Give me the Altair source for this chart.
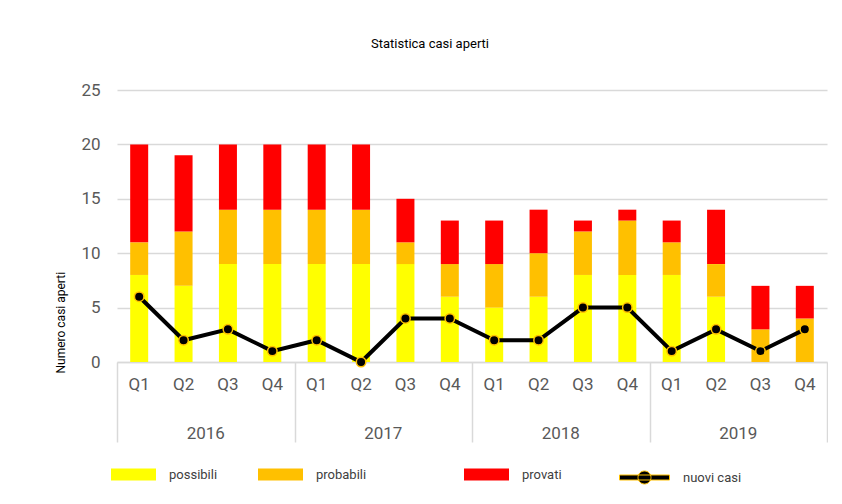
import altair as alt
import pandas as pd

# ---- data ----
years = ["2016", "2017", "2018", "2019"]
quarters = ["Q1", "Q2", "Q3", "Q4"]
possibili = [8, 7, 9, 9, 9, 9, 9, 6, 5, 6, 8, 8, 8, 6, 0, 0]
probabili = [3, 5, 5, 5, 5, 5, 2, 3, 4, 4, 4, 5, 3, 3, 3, 4]
provati = [9, 7, 6, 6, 6, 6, 4, 4, 4, 4, 1, 1, 2, 5, 4, 3]
nuovi_casi = [6, 2, 3, 1, 2, 0, 4, 4, 2, 2, 5, 5, 1, 3, 1, 3]
series_names = ["possibili", "probabili", "provati"]
series_colors = ["#FFFF00", "#FFC000", "#FF0000"]
y_ticks = [0, 5, 10, 15, 20, 25]

FONT = "Roboto, sans-serif"
n = len(years) * len(quarters)

bar_rows = []
for i in range(n):
    for k, (name, vals) in enumerate(zip(series_names, [possibili, probabili, provati])):
        bar_rows.append({"pos": i + 0.5, "serie": name, "val": vals[i], "ord": k})
bar_df = pd.DataFrame(bar_rows)

line_df = pd.DataFrame({"pos": [i + 0.5 for i in range(n)], "nuovi": nuovi_casi,
                        "lbl": ["nuovi casi"] * n})
q_df = pd.DataFrame({"pos": [i + 0.5 for i in range(n)],
                     "q": [q for _ in years for q in quarters]})
y_df = pd.DataFrame({"pos": [4 * j + 2 for j in range(len(years))], "year": years})

W, H = 710, 272
x_scale = alt.Scale(domain=[0, n], nice=False, zero=False, padding=0)
y_scale = alt.Scale(domain=[0, 25], nice=False)

x_axis = alt.Axis(values=[0, 4, 8, 12, 16], labels=False, tickSize=80,
                  tickColor="#D9D9D9", tickWidth=1.5, domainColor="#D9D9D9",
                  domainWidth=1.5, grid=False, title=None)
y_axis = alt.Axis(values=y_ticks, title="Numero casi aperti", grid=True,
                  gridColor="#D9D9D9", gridWidth=1.5, domain=False, ticks=False,
                  labelFontSize=17, labelColor="#595959", labelFont=FONT,
                  labelPadding=17, titleFontSize=12, titleColor="black",
                  titleFontWeight="normal", titleFont=FONT, titleAlign="left",
                  titleAngle=-90, titleBaseline="bottom", titleX=-50, titleY=H + 11)

X = alt.X("pos:Q", scale=x_scale, axis=x_axis)

legend_x = [-6, 141, 347]
LEG_Y = 362
RECT = "M-1,-0.267L1,-0.267L1,0.267L-1,0.267Z"

base_bars = alt.Chart(bar_df).transform_stack(
    stack="val", groupby=["pos"], as_=["v0", "v1"],
    sort=[alt.SortField("ord", order="ascending")],
)

bar_layers = []
for name, col, lx in zip(series_names, series_colors, legend_x):
    bar_layers.append(
        base_bars.transform_filter(alt.datum.serie == name).mark_bar(size=18).encode(
            x=X,
            y=alt.Y("v0:Q", scale=y_scale, axis=y_axis),
            y2="v1:Q",
            color=alt.Color("serie:N", scale=alt.Scale(domain=[name], range=[col]),
                            legend=alt.Legend(orient="none", legendX=lx, legendY=LEG_Y,
                                              title=None, symbolType=RECT,
                                              symbolSize=2025, symbolStrokeWidth=0,
                                              symbolOpacity=1,
                                              labelFontSize=13, labelColor="#404040",
                                              labelFont=FONT, labelOffset=13)),
        )
    )

line = alt.Chart(line_df).mark_line(color="black", strokeWidth=4).encode(
    x=X,
    y=alt.Y("nuovi:Q", scale=y_scale, axis=y_axis),
)

points = alt.Chart(line_df).mark_circle(size=90, stroke="#FFC000", strokeWidth=1.5,
                                        opacity=1).encode(
    x=X,
    y=alt.Y("nuovi:Q", scale=y_scale, axis=y_axis),
    fill=alt.Fill("lbl:N", scale=alt.Scale(range=["black"]),
                  legend=alt.Legend(orient="none", legendX=502, legendY=LEG_Y, title=None,
                                    symbolType="M-1,-0.1L1,-0.1L1,0.1L-1,0.1Z M0.26,0A0.26,0.26,0,1,1,-0.26,0A0.26,0.26,0,1,1,0.26,0Z",
                                    symbolSize=2500, symbolStrokeColor="#FFC000",
                                    symbolStrokeWidth=1, labelFontSize=13,
                                    labelColor="#404040", labelFont=FONT, labelOffset=13)),
)

q_text = alt.Chart(q_df).mark_text(fontSize=17, color="#595959", font=FONT,
                                   baseline="middle").encode(
    x=X,
    y=alt.value(H + 23),
    text="q:N",
)

yr_text = alt.Chart(y_df).mark_text(fontSize=17, color="#595959", font=FONT,
                                    baseline="middle").encode(
    x=X,
    y=alt.value(H + 72),
    text="year:N",
)

chart = alt.layer(*bar_layers, line, points, q_text, yr_text).resolve_scale(
    color="independent"
).properties(
    width=W, height=H,
    title=alt.TitleParams("Statistica casi aperti", fontSize=13, font=FONT,
                          fontWeight="normal", color="black", offset=30, dx=-42),
    padding={"left": 46, "top": 30, "right": 0, "bottom": 5},
).configure_view(stroke=None)

chart.save("out.html", embed_options={"renderer": "svg", "actions": False})
